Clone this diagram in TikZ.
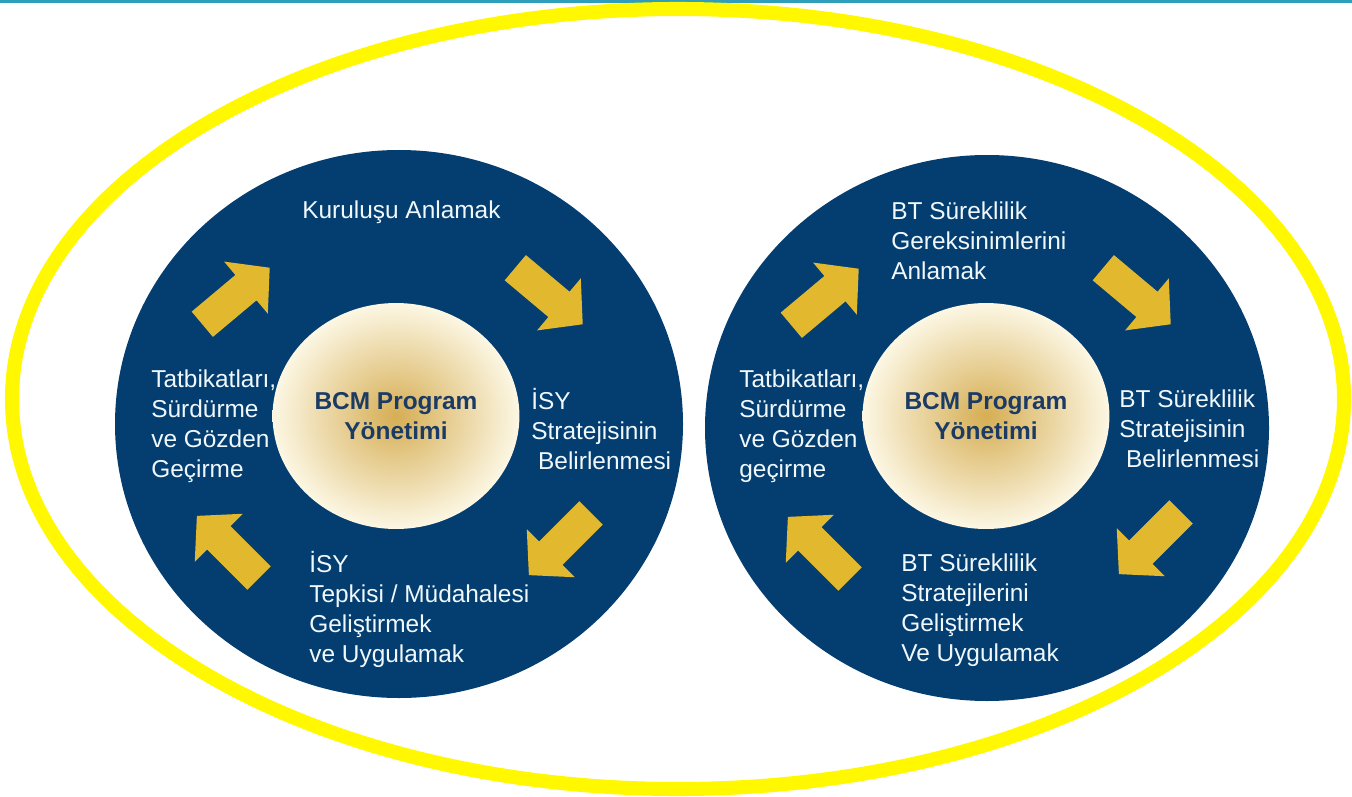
\documentclass[tikz,border=0pt]{standalone}
\usepackage{fontspec}
\setmainfont{Liberation Sans}
\usetikzlibrary{shapes.geometric}

\definecolor{navy}{RGB}{4,62,112}
\definecolor{arrowgold}{RGB}{226,185,46}
\definecolor{ringyellow}{RGB}{255,248,0}
\definecolor{topline}{RGB}{46,158,186}
\definecolor{hubgold}{RGB}{214,174,84}
\definecolor{hubcream}{RGB}{252,247,228}
\definecolor{hubtext}{RGB}{27,58,100}
\definecolor{labelwhite}{RGB}{240,248,252}

\tikzset{
  lbl/.style={text=labelwhite, align=left, anchor=north west, inner sep=0pt,
    font=\fontsize{13.9}{17}\selectfont},
  hub/.style={ellipse, minimum width=4.56cm, minimum height=4.52cm,
    inner color=hubgold, outer color=hubcream, text=hubtext, align=center,
    font=\bfseries\fontsize{13.9}{17}\selectfont},
  flow/.style={fill=arrowgold},
  ring/.style={draw=ringyellow, line width=8pt},
}

\begin{document}
\begin{tikzpicture}[x=0.02cm, y=-0.02cm]
    \useasboundingbox (0,0) rectangle (1352,797);
    % 顶部细线
    \fill[topline] (0,0) rectangle (1352,3);

    % 外部黄色椭圆
    \draw[ring] (678,399) ellipse [x radius=666, y radius=390];

    % 两个深蓝色圆盘
    \fill[navy] (399,424) ellipse [x radius=284, y radius=274];
    \fill[navy] (987,428) ellipse [x radius=282, y radius=273];

    % 中心
    \node[hub] (hubL) at (396,416) {BCM Program\\Yönetimi};
    \node[hub] (hubR) at (986,416) {BCM Program\\Yönetimi};

    % 循环箭头
    \foreach \ax/\ay/\ang in {236/296/40, 549/296/-40, 560/544/-135, 228/547/135,
                              825/297/40, 1137/296/-40, 1150/543/-135, 819/548/135} {
        \fill[flow, shift={(\ax,\ay)}, rotate=\ang]
            (-44,-16.5) -- (13,-16.5) -- (13,-34) -- (44,0) -- (13,34) -- (13,16.5) -- (-44,16.5) -- cycle;
    }

    % 左侧标注
    \node[lbl] (kurL) at (302,200.5) {Kuruluşu Anlamak};
    \node[lbl] (strL) at (531,388) {İSY\\Stratejisinin\\\hspace{0.28em}Belirlenmesi};
    \node[lbl] (tepL) at (309,551) {İSY\\Tepkisi / Müdahalesi\\Geliştirmek\\ve Uygulamak};
    \node[lbl] (tatL) at (151,369.5) {Tatbikatları,\\Sürdürme\\ve Gözden\\Geçirme};

    % 右侧标注
    \node[lbl] (gerR) at (891,201.5) {BT Süreklilik\\Gereksinimlerini\\Anlamak};
    \node[lbl] (strR) at (1119,389.5) {BT Süreklilik\\Stratejisinin\\\hspace{0.28em}Belirlenmesi};
    \node[lbl] (gelR) at (901,553.5) {BT Süreklilik\\Stratejilerini\\Geliştirmek\\Ve Uygulamak};
    \node[lbl] (tatR) at (739,369.5) {Tatbikatları,\\Sürdürme\\ve Gözden\\geçirme};
\end{tikzpicture}
\end{document}
